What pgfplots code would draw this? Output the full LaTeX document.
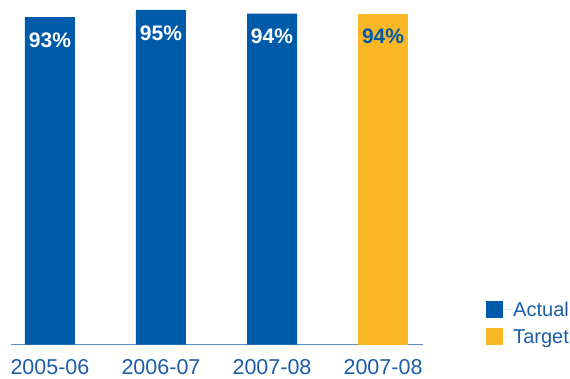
\documentclass[border=0pt]{standalone}
\usepackage{pgfplots}
\pgfplotsset{compat=1.18}
\usepackage{fontspec}
\setmainfont{Liberation Sans}
\definecolor{cblue}{HTML}{005AAA}
\definecolor{cyel}{HTML}{FBB725}
\definecolor{caxis}{HTML}{5A8FC8}
\definecolor{ctext}{HTML}{1B5DA8}
\begin{document}
\begin{tikzpicture}
\useasboundingbox (0,0) rectangle (570pt,379pt);
\begin{axis}[
  at={(11pt,34.3pt)}, anchor=south west,
  scale only axis, width=412pt, height=334.7pt,
  xmin=-0.351, xmax=3.36, ymin=0, ymax=95,
  ybar, bar width=50pt, bar shift=0pt,
  clip=false,
  axis x line=bottom, axis y line=none,
  axis line style={-, draw=caxis, line width=1pt},
  xtick={0,1,2,3},
  xticklabels={2005-06,2006-07,2007-08,2007-08},
  ytick=\empty,
  major tick length=0pt,
  xticklabel style={font=\fontsize{21.5}{24}\selectfont, text=ctext, anchor=north, inner sep=0pt, yshift=-14.3pt},
  /pgf/number format/assume math mode=true,
  nodes near coords={\pgfmathprintnumber{\pgfplotspointmeta}\%},
  every node near coord/.append style={font=\bfseries\fontsize{21}{24}\selectfont, anchor=center, yshift=-23pt},
  legend style={at={(1.153,0.1306)}, anchor=north west, draw=none, fill=none, inner sep=0pt,
    row sep=10pt, font=\fontsize{20}{24}\selectfont, text=ctext,
    nodes={inner sep=0pt, text depth=0pt}},
  legend cell align=left,
  legend image code/.code={\fill[#1] (0pt,-8.5pt) rectangle (17pt,8.5pt); \path (0pt,0pt) -- (27pt,0pt);},
]
\addplot[fill=cblue, draw=none, every node near coord/.append style={text=white}] coordinates {(0,93) (1,95) (2,94)};
\addlegendentry{Actual}
\addplot[fill=cyel, draw=none, every node near coord/.append style={text=cblue}] coordinates {(3,94)};
\addlegendentry{Target}
\end{axis}
\end{tikzpicture}
\end{document}
